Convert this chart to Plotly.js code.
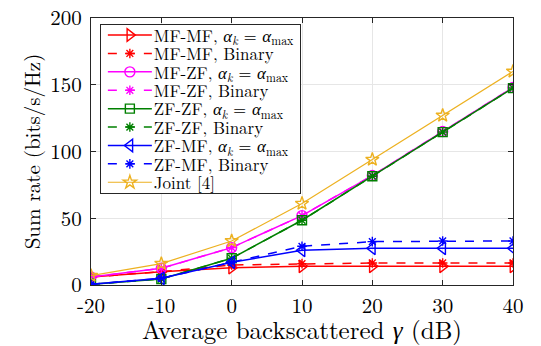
<!DOCTYPE html>
<html><head><meta charset="utf-8">
<script src="https://cdn.plot.ly/plotly-3.0.1.min.js"></script>
<style>
body{margin:0;padding:0;background:#fff}
#chart{width:541px;height:346px}
</style>
</head><body><div id="chart"></div>
<script>
const gamma = [-20, -10, 0, 10, 20, 30, 40];
const mfmfAlpha  = [6, 10, 13, 14, 14, 14, 14];
const mfmfBinary = [6, 10, 15, 16, 16.5, 16.5, 16.5];
const mfzfAlpha  = [6, 12.5, 28, 52, 82, 115, 148];
const mfzfBinary = [6, 12.5, 28, 52, 82, 115, 148];
const zfzfAlpha  = [0.5, 4.5, 20, 48.5, 81.5, 114.5, 147.5];
const zfzfBinary = [0.5, 4.5, 20, 48.5, 81.5, 114.5, 147.5];
const zfmfAlpha  = [0.5, 5, 17, 26, 27.5, 27.5, 27.5];
const zfmfBinary = [0.5, 5, 17, 29, 32.5, 33, 33];
const joint      = [7, 16, 33, 61, 94, 127, 160];
const yTicks = [0, 50, 100, 150, 200];

const alphaTxt = ', <i>α<sub>k</sub></i> = <i>α</i><sub>max</sub>';
const names = ['MF-MF' + alphaTxt, 'MF-MF, Binary', 'MF-ZF' + alphaTxt, 'MF-ZF, Binary',
  'ZF-ZF' + alphaTxt, 'ZF-ZF, Binary', 'ZF-MF' + alphaTxt, 'ZF-MF, Binary', 'Joint [4]'];
const series = [mfmfAlpha, mfmfBinary, mfzfAlpha, mfzfBinary, zfzfAlpha, zfzfBinary, zfmfAlpha, zfmfBinary, joint];
const colors = ['#ff0000', '#ff0000', '#ff00ff', '#ff00ff', '#008000', '#008000', '#0000ff', '#0000ff', '#edb120'];
const symbols = ['triangle-right-open', 'asterisk-open', 'circle-open', 'asterisk-open', 'square-open',
  'asterisk-open', 'triangle-left-open', 'asterisk-open', 'star-open'];
const sizes = [11, 8, 10, 8, 9, 8, 11, 8, 10];
const dashes = ['solid', 'dash', 'solid', 'dash', 'solid', 'dash', 'solid', 'dash', 'solid'];

const traces = series.map((s, i) => ({
  x: gamma, y: s, name: names[i], type: 'scatter', mode: 'lines+markers',
  line: {color: colors[i], width: i === 8 ? 1.2 : 1.5, dash: dashes[i]},
  marker: {symbol: symbols[i], color: colors[i], size: sizes[i], line: {color: colors[i], width: 1.4}}
}));

const fam = '"Latin Modern Roman", "CMU Serif", "Liberation Serif", "DejaVu Serif", serif';
const f = (size) => ({family: fam, size: size, color: '#000'});
const axisCommon = {
  showgrid: true, gridcolor: '#e6e6e6', gridwidth: 1,
  showline: true, linecolor: '#262626', linewidth: 1, mirror: 'ticks',
  ticks: 'inside', ticklen: 5, tickcolor: '#262626', zeroline: false,
  tickfont: f(21)
};
const layout = {
  width: 541, height: 346,
  margin: {l: 91, r: 28, t: 18, b: 61},
  paper_bgcolor: '#fff', plot_bgcolor: '#fff',
  font: f(16),
  showlegend: true,
  legend: {x: 0.021, y: 0.978, xanchor: 'left', yanchor: 'top',
    bgcolor: '#fff', bordercolor: '#262626', borderwidth: 1,
    font: f(17), tracegroupgap: 0, itemwidth: 43},
  xaxis: Object.assign({}, axisCommon, {range: [-20, 40], tickvals: gamma, ticktext: gamma.map(String),
    ticklabelstandoff: 2,
    title: {text: 'Average backscattered <i>γ</i> (dB)', font: f(25), standoff: 1}}),
  yaxis: Object.assign({}, axisCommon, {range: [0, 200], tickvals: yTicks,
    ticklabelstandoff: 4,
    title: {text: 'Sum rate (bits/s/Hz)', font: f(21), standoff: 3}})
};

// Tighten legend rows and lengthen legend samples (styling only).
function tightenLegend(gd) {
  try {
    const items = gd.querySelectorAll('g.legend g.traces');
    if (!items.length) return;
    const step = 18.4, pad = 2;
    const parse = el => {
      const m = /translate\(\s*([-\d.e]+)[ ,]+([-\d.e]+)\s*\)/.exec(el.getAttribute('transform') || '');
      return m ? [parseFloat(m[1]), parseFloat(m[2])] : [0, 0];
    };
    items.forEach((el, i) => {
      const p = parse(el);
      el.setAttribute('transform', 'translate(' + p[0] + ',' + (pad + step / 2 + i * step) + ')');
    });
    const bg = gd.querySelector('g.legend rect.bg');
    if (bg) bg.setAttribute('height', items.length * step + 2 * pad);
    gd.querySelectorAll('g.legend g.legendlines path').forEach(p => p.setAttribute('d', 'M7,0h44'));
    gd.querySelectorAll('g.legend g.legendpoints path').forEach(p => p.setAttribute('transform', 'translate(29,0)'));
  } catch (e) {}
}
Plotly.newPlot('chart', traces, layout, {displayModeBar: false, staticPlot: true}).then(tightenLegend);
</script></body></html>
